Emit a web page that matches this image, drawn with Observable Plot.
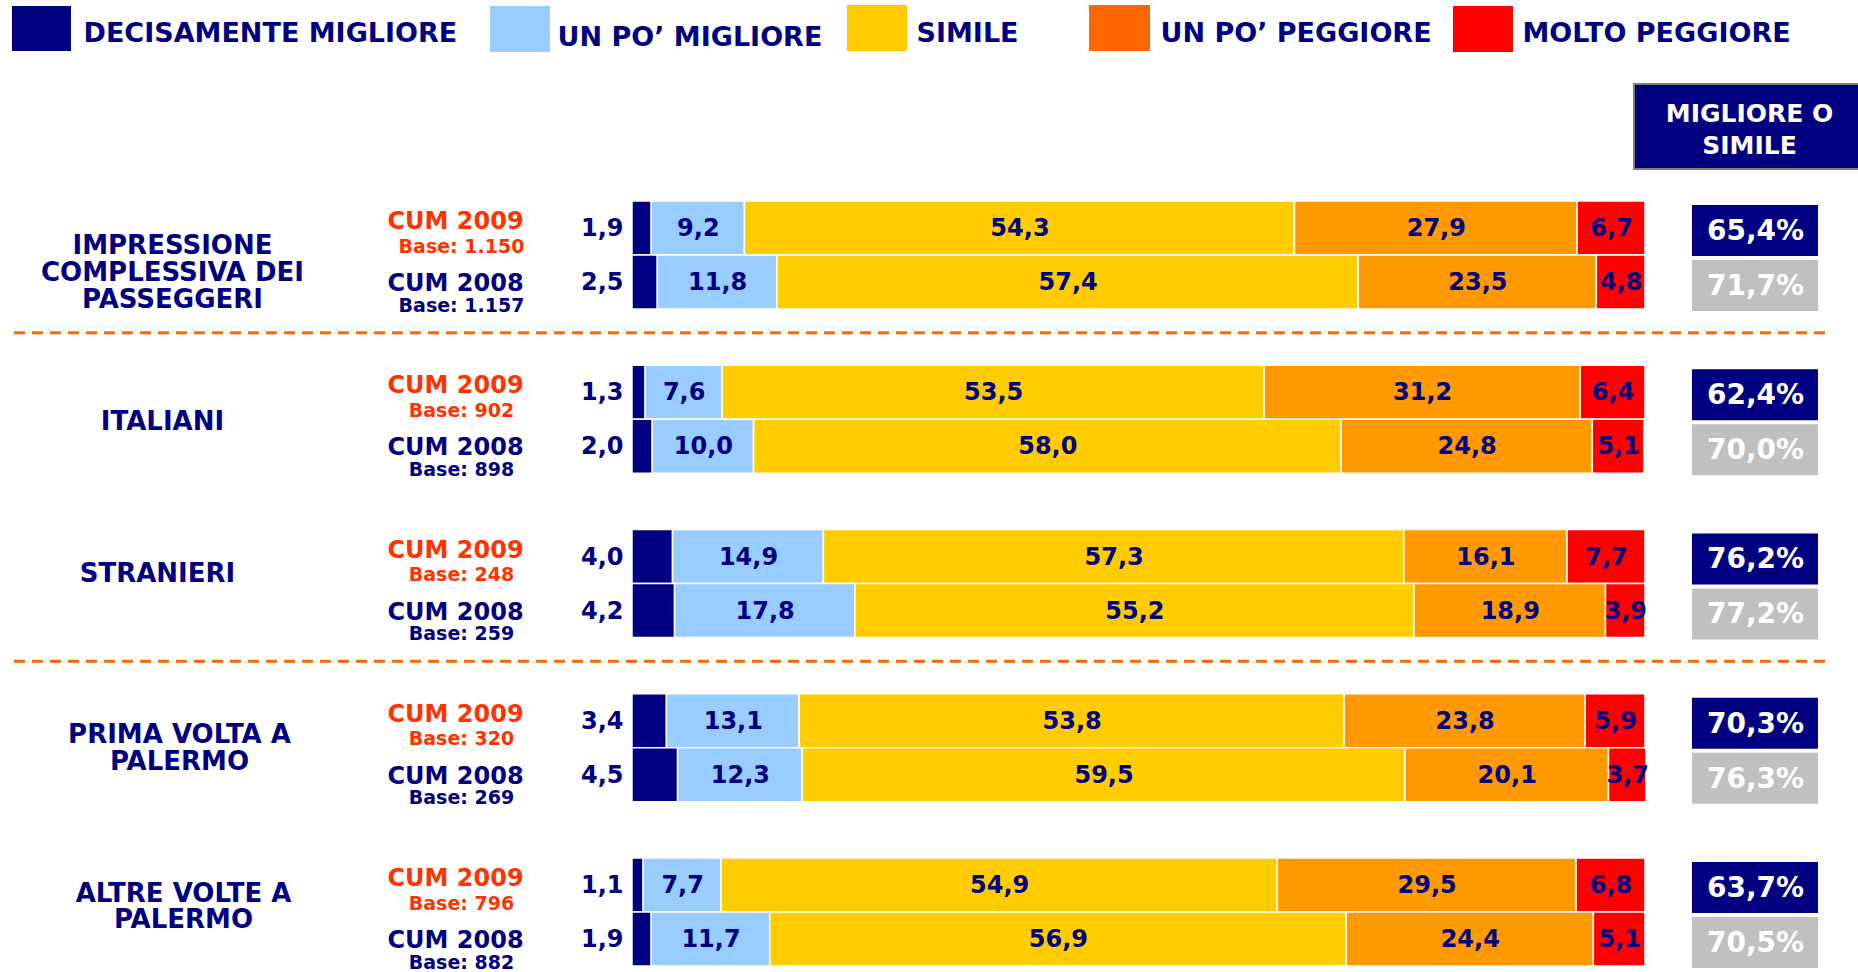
<!DOCTYPE html>
<html><head><meta charset="utf-8">
<script src="https://cdn.jsdelivr.net/npm/d3@7"></script>
<script src="https://cdn.jsdelivr.net/npm/@observablehq/plot@0.6"></script>
<style>html,body{margin:0;padding:0;background:#fff;overflow:hidden}</style>
</head><body><div id="chart"></div>
<script>
// ---------- DATA ----------
const groups = ["IMPRESSIONE COMPLESSIVA DEI PASSEGGERI", "ITALIANI", "STRANIERI", "PRIMA VOLTA A PALERMO", "ALTRE VOLTE A PALERMO"];
const groupLabels = ["IMPRESSIONE\nCOMPLESSIVA DEI\nPASSEGGERI", "ITALIANI", "STRANIERI", "PRIMA VOLTA A\nPALERMO", "ALTRE VOLTE A\nPALERMO"];
const periods = ["CUM 2009", "CUM 2008"];
const bases2009 = ["1.150", "902", "248", "320", "796"];
const bases2008 = ["1.157", "898", "259", "269", "882"];
const levels = ["DECISAMENTE MIGLIORE", "UN PO’ MIGLIORE", "SIMILE", "UN PO’ PEGGIORE", "MOLTO PEGGIORE"];
const values2009 = [
  [1.9, 9.2, 54.3, 27.9, 6.7],
  [1.3, 7.6, 53.5, 31.2, 6.4],
  [4.0, 14.9, 57.3, 16.1, 7.7],
  [3.4, 13.1, 53.8, 23.8, 5.9],
  [1.1, 7.7, 54.9, 29.5, 6.8]
];
const values2008 = [
  [2.5, 11.8, 57.4, 23.5, 4.8],
  [2.0, 10.0, 58.0, 24.8, 5.1],
  [4.2, 17.8, 55.2, 18.9, 3.9],
  [4.5, 12.3, 59.5, 20.1, 3.7],
  [1.9, 11.7, 56.9, 24.4, 5.1]
];
const better2009 = [65.4, 62.4, 76.2, 70.3, 63.7];
const better2008 = [71.7, 70.0, 77.2, 76.3, 70.5];
const summaryTitle = "MIGLIORE O\nSIMILE";
const separatorsAfter = ["IMPRESSIONE COMPLESSIVA DEI PASSEGGERI", "STRANIERI"];
const barColors = ["#000080", "#99CCFF", "#FFCC00", "#FF9900", "#FF0000"];
const legendColors = ["#000080", "#99CCFF", "#FFCC00", "#FF6600", "#FF0000"];

// ---------- LAYOUT ----------
const W = 1858, H = 972;
const X0 = 632, X1 = 1645;          // pixel extent of 0..100 %
const TOP = 201, STEP = 164.25, ROW = 54;
const px = p => (p - X0) / (X1 - X0) * 100;   // pixel -> x units
const py = p => (p - TOP) / STEP;               // pixel -> y units
const gy = (g, off) => g + off / STEP;
const NAVY = "#000080";
const PERIOD_COLORS = ["#FF3300", NAVY];
const FONT = "DejaVu Sans";
const LABEL_CX = [172, 162, 157, 179, 183];
const LABEL_CY = [71, 56, 43, 54, 48];
const LEG = [
  {sx: 12, sw: 59, sy: 6, sh: 45, tx: 83, ty: 33},
  {sx: 490, sw: 60, sy: 6, sh: 46, tx: 557, ty: 37},
  {sx: 847, sw: 60, sy: 5, sh: 46, tx: 916, ty: 33},
  {sx: 1089, sw: 61, sy: 5, sh: 46, tx: 1160, ty: 33},
  {sx: 1453, sw: 60, sy: 6, sh: 46, tx: 1522, ty: 33}
];
const fmt = v => d3.format(".1f")(v).replace(".", ",");

// ---------- DERIVED TABLES ----------
const segs = [];
groups.forEach((g, gi) => {
  [values2009, values2008].forEach((vals, pi) => {
    let acc = 0;
    vals[gi].forEach((v, li) => {
      segs.push({group: g, gi, pi, level: levels[li], li, v, x1: acc, x2: acc + v,
                 y1: gy(gi, pi * ROW), y2: gy(gi, (pi + 1) * ROW), yc: gy(gi, pi * ROW + ROW / 2),
                 label: fmt(v)});
      acc += v;
    });
  });
});
const inner = segs.filter(d => d.li > 0).map(d => ({...d, xm: (d.x1 + d.x2) / 2}));
const first = segs.filter(d => d.li === 0);

const cats = groups.map((g, gi) => ({text: groupLabels[gi], x: px(LABEL_CX[gi]), y: gy(gi, LABEL_CY[gi])}));
const periodRows = [];
groups.forEach((g, gi) => {
  periodRows.push({t: periods[0], base: "Base: " + bases2009[gi], pi: 0, y: gy(gi, 20), yb: gy(gi, 45)});
  periodRows.push({t: periods[1], base: "Base: " + bases2008[gi], pi: 1, y: gy(gi, 82), yb: gy(gi, 104)});
});
const totals = [];
groups.forEach((g, gi) => {
  totals.push({v: better2009[gi], pi: 0, y1: gy(gi, 4), y2: gy(gi, 55)});
  totals.push({v: better2008[gi], pi: 1, y1: gy(gi, 59), y2: gy(gi, 110)});
});
const seps = separatorsAfter.map(s => groups.indexOf(s) + 1 - 33 / STEP);
const legend = levels.map((l, i) => ({label: l, color: legendColors[i], ...LEG[i]}));

const txt = (extra) => ({fontFamily: FONT, fontWeight: "bold", ...extra});

const marks = [
  // legend
  ...legend.map(d => Plot.rect([d], {x1: () => px(d.sx), x2: () => px(d.sx + d.sw), y1: () => py(d.sy), y2: () => py(d.sy + d.sh), fill: d.color})),
  Plot.text(legend, txt({x: d => px(d.tx), y: d => py(d.ty), text: "label", textAnchor: "start", fill: NAVY, fontSize: 27})),
  // header box
  Plot.rect([summaryTitle], {x1: () => px(1634), x2: () => px(1864), y1: () => py(84), y2: () => py(169), fill: NAVY, stroke: "#7f7f7f", strokeWidth: 2}),
  Plot.text([summaryTitle], txt({x: () => px(1749), y: () => py(127.5), text: d => d, fill: "white", fontSize: 25, lineHeight: 1.25})),
  // separators
  Plot.ruleY(seps, {y: d => d, x1: () => px(14), x2: () => px(1831), stroke: "#FF6600", strokeWidth: 3, strokeDasharray: "11,7"}),
  // bars
  Plot.rect(segs, {x1: "x1", x2: "x2", y1: "y1", y2: "y2", fill: "level", stroke: "white", strokeWidth: 1.5}),
  Plot.text(inner, txt({x: "xm", y: "yc", text: "label", fill: NAVY, fontSize: 24})),
  Plot.text(first, txt({x: () => 0, y: "yc", text: "label", fill: NAVY, fontSize: 24, textAnchor: "end", dx: -9})),
  // category labels
  Plot.text(cats, txt({x: "x", y: "y", text: "text", fill: NAVY, fontSize: 26, lineHeight: 1.02})),
  // period + base labels
  Plot.text(periodRows, txt({x: () => px(455), y: "y", text: "t", fill: d => PERIOD_COLORS[d.pi], fontSize: 24})),
  Plot.text(periodRows, txt({x: () => px(461), y: "yb", text: "base", fill: d => PERIOD_COLORS[d.pi], fontSize: 19})),
  // summary boxes
  Plot.rect(totals, {x1: () => px(1692), x2: () => px(1818), y1: "y1", y2: "y2", fill: d => d.pi === 0 ? NAVY : "#C0C0C0"}),
  Plot.text(totals, txt({x: () => px(1755), y: d => (d.y1 + d.y2) / 2, text: d => fmt(d.v) + "%", fill: "white", fontSize: 28}))
];

const chart = Plot.plot({
  width: W, height: H,
  marginTop: 0, marginBottom: 0, marginLeft: 0, marginRight: 0,
  style: {fontFamily: FONT, background: "white"},
  x: {type: "linear", domain: [0, 100], range: [X0, X1], axis: null},
  y: {type: "linear", domain: [0, 5], range: [TOP, TOP + 5 * STEP], axis: null},
  color: {type: "ordinal", domain: levels, range: barColors},
  marks
});
document.getElementById("chart").appendChild(chart);
</script>
</body></html>
